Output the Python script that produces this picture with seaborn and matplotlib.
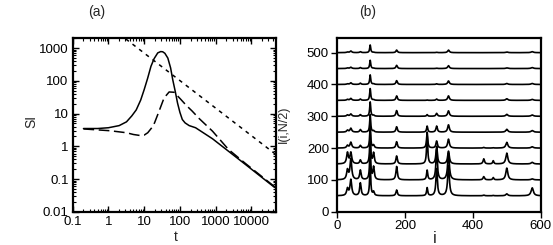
import numpy as np
import pandas as pd
import matplotlib
matplotlib.use("Agg")
import matplotlib.pyplot as plt
import seaborn as sns
from matplotlib.ticker import FixedLocator, FuncFormatter, LogLocator, NullFormatter

# ---------------- data: panel (a) ----------------
t_solid = [0.2, 0.5, 1, 2, 3.2, 4.5, 6, 8, 10, 12.5, 15.5, 19, 24, 29, 33, 38, 46, 55,
           63, 75, 86, 100, 117, 140, 182, 275, 820, 6800, 45000]
si_solid = [3.5, 3.5, 3.7, 4.3, 5.6, 8.5, 13, 26, 54, 120, 280, 480, 720, 790, 780, 700,
            500, 250, 110, 45, 21, 11, 6.6, 5.2, 4.3, 3.7, 1.7, 0.28, 0.055]

t_dashed = [0.2, 1.1, 3.2, 5, 7.5, 10, 12.6, 16, 19.5, 26, 36, 50, 69, 107, 150, 220,
            350, 820, 2300, 6800, 45000]
si_dashed = [3.4, 3.0, 2.6, 2.3, 2.15, 2.2, 2.6, 3.6, 5.2, 11.7, 30, 46, 45, 27, 18, 12,
             7, 2.9, 0.8, 0.3, 0.058]

t_dotted = [2, 50000]
si_dotted = [2750, 0.55]

# ---------------- data: panel (b) ----------------
baselines = [50, 100, 150, 200, 250, 300, 350, 400, 450, 500]
peak_pos = [30, 40, 68, 97, 107, 175, 265, 293, 328, 432, 460, 500, 575]
peak_width = [3, 3, 2.5, 1.8, 2.5, 2.5, 2, 2.5, 3, 2.5, 2, 3.5, 4]
peak_h_50 = [22, 50, 40, 100, 12, 18, 25, 85, 95, 2, 1, 6, 25]
peak_h_100 = [30, 65, 30, 110, 40, 42, 30, 95, 85, 10, 7, 37, 3]
peak_h_150 = [35, 35, 12, 100, 34, 25, 90, 55, 40, 16, 10, 34, 5]
peak_h_200 = [8, 18, 8, 70, 9, 20, 50, 22, 28, 2, 1, 18, 4]
peak_h_250 = [6, 12, 8, 55, 4, 17, 19, 19, 23, 0, 0, 9, 5]
peak_h_300 = [4, 7, 5, 45, 3, 18, 5, 9, 17, 0, 0, 6, 4]
peak_h_350 = [3, 6, 4, 37, 2, 14, 1, 4, 14, 0, 0, 5, 3]
peak_h_400 = [2, 5, 4, 30, 2, 12, 0, 2, 11, 0, 0, 3, 3]
peak_h_450 = [2, 4, 3, 26, 1, 10, 0, 1, 9, 0, 0, 2, 3]
peak_h_500 = [2, 5, 3, 24, 1, 8, 0, 1, 8, 0, 0, 2, 3]
peak_heights = [peak_h_50, peak_h_100, peak_h_150, peak_h_200, peak_h_250,
                peak_h_300, peak_h_350, peak_h_400, peak_h_450, peak_h_500]

a_xticks = [0.1, 1, 10, 100, 1000, 10000]
a_yticks = [0.01, 0.1, 1, 10, 100, 1000]
b_xticks = [0, 200, 400, 600]
b_yticks = [0, 100, 200, 300, 400, 500]

# ---------------- style ----------------
sns.set_theme(style="ticks")
plt.rcParams["font.family"] = ["Liberation Sans", "DejaVu Sans"]
plt.rcParams["font.size"] = 9

fig = plt.figure(figsize=(5.53, 2.45), dpi=100)
W, H = 553, 245
ax_a = fig.add_axes([72.7 / W, 1 - 211.7 / H, (276 - 72.7) / W, (211.7 - 37.7) / H])
ax_b = fig.add_axes([337.3 / W, 1 - 211.7 / H, (540.7 - 337.3) / W, (211.7 - 37.7) / H])

# ---------------- panel (a) ----------------
sns.lineplot(x=t_solid, y=si_solid, ax=ax_a, color="black", linewidth=1.1,
             estimator=None, sort=False)
sns.lineplot(x=t_dashed, y=si_dashed, ax=ax_a, color="black", linewidth=1.1,
             estimator=None, sort=False, linestyle=(0, (7, 3)))
sns.lineplot(x=t_dotted, y=si_dotted, ax=ax_a, color="black", linewidth=1.1,
             estimator=None, sort=False, linestyle=(0, (2.5, 3)))
ax_a.set_xscale("log")
ax_a.set_yscale("log")
ax_a.set_xlim(0.1, 4.9e4)
ax_a.set_ylim(0.01, 2100)
ax_a.xaxis.set_major_locator(FixedLocator(a_xticks))
ax_a.yaxis.set_major_locator(FixedLocator(a_yticks))
fmt = FuncFormatter(lambda v, p: "%g" % v)
ax_a.xaxis.set_major_formatter(fmt)
ax_a.yaxis.set_major_formatter(fmt)
ax_a.xaxis.set_minor_locator(LogLocator(base=10, subs=np.arange(2, 10) * 1.0, numticks=20))
ax_a.yaxis.set_minor_locator(LogLocator(base=10, subs=np.arange(2, 10) * 1.0, numticks=20))
ax_a.xaxis.set_minor_formatter(NullFormatter())
ax_a.yaxis.set_minor_formatter(NullFormatter())
ax_a.tick_params(which="both", direction="in", top=True, right=True, colors="black",
                 labelsize=9.5, pad=3)
ax_a.tick_params(which="major", length=4, width=1.0)
ax_a.tick_params(which="minor", length=2, width=0.8)
ax_a.set_xlabel("t", fontsize=10)
ax_a.set_ylabel("SI", fontsize=10)
ax_a.xaxis.set_label_coords(0.508, -0.105)
ax_a.yaxis.set_label_coords(-0.171, 0.52)
for s in ax_a.spines.values():
    s.set_linewidth(1.6)
    s.set_color("black")

# ---------------- panel (b) ----------------
i_grid = np.arange(0, 600.5, 0.5)
rows = []
for k, (base, hts) in enumerate(zip(baselines, peak_heights)):
    y = np.full_like(i_grid, float(base))
    for p, w, h in zip(peak_pos, peak_width, hts):
        y = y + h / (1.0 + ((i_grid - p) / w) ** 2)
    rows.append(pd.DataFrame({"i": i_grid, "I": y, "trace": k}))
df_b = pd.concat(rows, ignore_index=True)
sns.lineplot(data=df_b, x="i", y="I", units="trace", estimator=None, color="black",
             linewidth=1.2, ax=ax_b, sort=False)
ax_b.set_xlim(0, 600)
ax_b.set_ylim(0, 547)
ax_b.xaxis.set_major_locator(FixedLocator(b_xticks))
ax_b.yaxis.set_major_locator(FixedLocator(b_yticks))
ax_b.tick_params(which="major", direction="out", length=4, width=1.0, colors="black",
                 labelsize=9.5, pad=2)
ax_b.set_xlabel("i", fontsize=12)
ax_b.set_ylabel("I(i,N/2)", fontsize=9)
ax_b.xaxis.set_label_coords(0.48, -0.11)
ax_b.yaxis.set_label_coords(-0.233, 0.5)
for s in ax_b.spines.values():
    s.set_linewidth(1.6)
    s.set_color("black")

fig.text(97 / W, 1 - 12 / H, "(a)", ha="center", va="center", fontsize=10)
fig.text(368 / W, 1 - 12 / H, "(b)", ha="center", va="center", fontsize=10)

fig.savefig("out.png", dpi=100)
